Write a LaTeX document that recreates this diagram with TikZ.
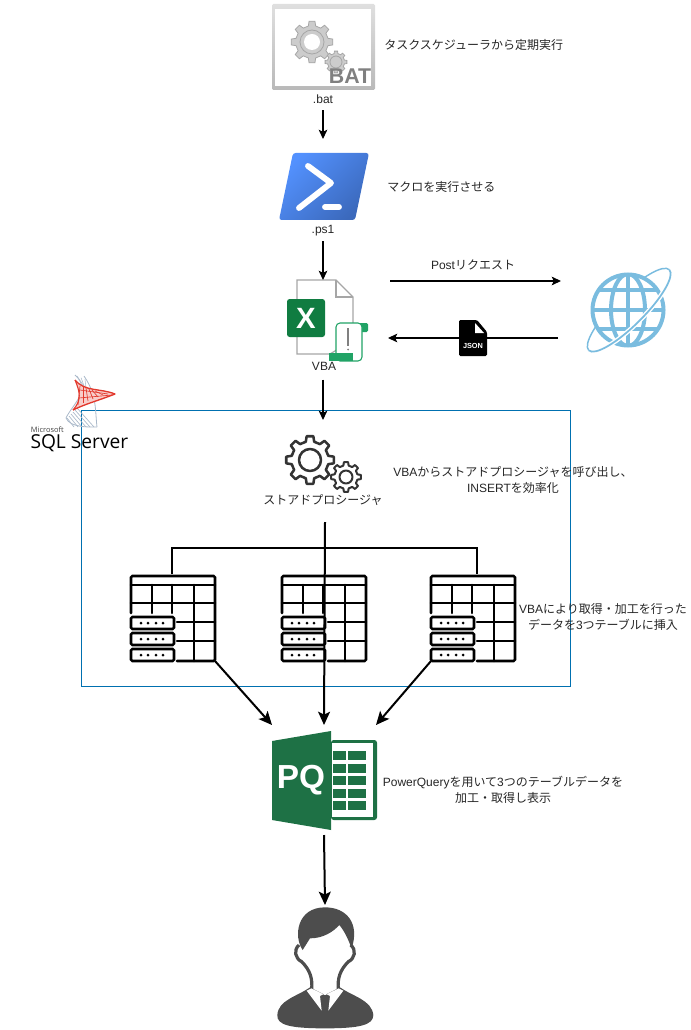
\documentclass[tikz,border=0pt]{standalone}
\usepackage{fontspec}
\setmainfont{Liberation Sans}
\newfontfamily\jpfont{Noto Sans CJK JP}
\newfontfamily\logofont{Open Sans}
\usetikzlibrary{arrows.meta}
\definecolor{boxblue}{HTML}{0070B0}
\definecolor{xlgreen}{HTML}{107C41}
\definecolor{scrollgreen}{HTML}{21A366}
\definecolor{pqgreen}{HTML}{1E7145}
\definecolor{globeblue}{HTML}{7ABCDF}
\definecolor{usergray}{HTML}{4D4D4D}
\definecolor{sqlred}{HTML}{E2382C}
\definecolor{sqlgray}{HTML}{A9B8C9}
\definecolor{pslight}{HTML}{5391FE}
\definecolor{psdark}{HTML}{3B69BC}
\def\px{0.75pt}
\newcommand{\jpt}[1]{{\jpfont #1}}
\newcommand{\gearicon}[4]{\draw[#1,shift={(#2)}] (-13:{#3*0.78}) \foreach \a in {0,45,...,315} { -- ({\a-13}:{#3*0.78}) -- ({\a-8}:#3) -- ({\a+8}:#3) -- ({\a+13}:{#3*0.78}) } -- cycle ; \draw[#1,shift={(#2)}] (0,0) circle[radius=#4] ;}
\tikzset{
  notetext/.style={inner sep=0pt,align=center,text=black!85,font=\fontsize{9}{12}\selectfont},
  iconbox/.style={inner sep=0pt,outer sep=0pt},
  flowline/.style={line width=0.8pt,-{Stealth[length=7pt,width=6.5pt,inset=1.6pt]}},
  heavyline/.style={line width=1.5pt,-{Stealth[length=10pt,width=9pt,inset=2.2pt]}},
  tableline/.style={line width=1.9pt,line cap=round,rounded corners=1pt},
  pics/tableicon/.style={code={
    \draw[tableline] (0,37) -- (0,0) -- (84,0) -- (84,85) -- (46,85) ;
    \draw[tableline] (0,9) -- (84,9) ;
    \draw[tableline] (0,27) -- (84,27) ;
    \draw[tableline] (21,9) -- (21,37) ;
    \draw[tableline] (41,9) -- (41,37) ;
    \draw[tableline] (63,9) -- (63,85) ;
    \draw[tableline] (46,46) -- (84,46) ;
    \draw[tableline] (46,65) -- (84,65) ;
    \foreach \r in {41,57,73} {
      \draw[tableline] (0,\r) rectangle (43,\r+12) ;
      \foreach \d in {10,17,25,32} \fill (\d,\r+6) circle[radius=1.5] ;
    }
  }}
}
\begin{document}
\begin{tikzpicture}[x=0.75pt,y=-0.75pt]
\useasboundingbox (0,0) rectangle (691,1030);
\draw[boxblue,line width=0.7pt] (81,410) rectangle (570,686) ;
% bat file
\node[iconbox,minimum width=104*\px,minimum height=86*\px] (baticon) at (323,47) {};
\shade[top color=gray!25,bottom color=gray!55,rounded corners=1pt] (272,4) rectangle (375,90) ;
\fill[white] (275,9) rectangle (371,86) ;
\gearicon{fill=gray!40,draw=gray!70,line width=0.6pt}{312,42}{21}{12}
\fill[white] (312,42) circle[radius=8] ;
\gearicon{fill=gray!40,draw=gray!70,line width=0.6pt}{336,62}{11}{6}
\node[iconbox,text=gray,font=\fontsize{16}{16}\selectfont\bfseries] (battext) at (350,76) {BAT};
\node[notetext,inner ysep=4.9pt] (batlabel) at (323,99) {.bat};
\node[notetext,anchor=west] (tasknote) at (384,45) {\jpt{タスクスケジューラから定期実行}};
% powershell
\node[iconbox,minimum width=90*\px,minimum height=81*\px] (psicon) at (323,179.5) {};
\shade[shading=axis,top color=pslight,bottom color=psdark,shading angle=45,rounded corners=2pt] (293,153) -- (369,153) -- (355,220) -- (279,220) -- cycle ;
\draw[white,line width=4.4pt,line cap=round,line join=round] (308,166) -- (331,183) -- (299,208) ;
\draw[white,line width=4.4pt,line cap=round] (325,207) -- (339,207) ;
\node[notetext,inner ysep=3.4pt] (pslabel) at (323,231) {.ps1};
\node[notetext,anchor=west] (macronote) at (387,187) {\jpt{マクロを実行させる}};
% excel with macro
\node[iconbox,minimum width=82*\px,minimum height=74*\px] (xlicon) at (323,317) {};
\draw[gray!70,line width=0.9pt,fill=white] (297,354) -- (297,280) -- (336,280) -- (353,297) -- (353,340) -- (330,354) -- cycle ;
\draw[gray!70,line width=0.9pt] (336,280) -- (336,297) -- (353,297) ;
\fill[xlgreen,rounded corners=2pt] (287,299) rectangle (325,337) ;
\node[iconbox,text=white,font=\fontsize{22}{22}\selectfont\bfseries] (xltext) at (306,318) {X};
\fill[scrollgreen,rounded corners=1pt] (358,323) rectangle (368,332) ;
\draw[scrollgreen,line width=0.8pt,fill=white,rounded corners=3pt] (336,361) -- (336,323) -- (362,323) -- (362,361) -- cycle ;
\fill[scrollgreen] (329,353) rectangle (353,361) ;
\draw[gray,line width=1pt] (348,328) -- (348,346) ;
\fill[gray] (348,349.5) circle[radius=1] ;
\node[notetext,inner ysep=7pt] (vbalabel) at (324,366) {VBA};
% web
\node[iconbox,minimum width=84*\px,minimum height=84*\px] (webicon) at (628,310) {};
\draw[globeblue,line width=1.1pt,rotate around={45:(629,310)}] (629,310) ellipse[x radius=57,y radius=15] ;
\begin{scope}
\fill[white] (628,310) circle[radius=37] ;
\clip (628,310) circle[radius=36] ;
\draw[globeblue,line width=3pt] (628,310) ellipse[x radius=17,y radius=36] ;
\draw[globeblue,line width=3pt] (628,274) -- (628,346) ;
\draw[globeblue,line width=3pt] (590,310) -- (666,310) ;
\draw[globeblue,line width=3pt] (590,290) -- (666,290) ;
\draw[globeblue,line width=3pt] (590,329) -- (666,329) ;
\end{scope}
\draw[globeblue,line width=3pt] (628,310) circle[radius=35.5] ;
\draw[white,line width=3.4pt,rotate around={45:(629,310)}] (686,310) arc[start angle=0,end angle=180,x radius=57,y radius=15] ;
\draw[globeblue,line width=1.3pt,rotate around={45:(629,310)}] (686,310) arc[start angle=0,end angle=180,x radius=57,y radius=15] ;
\coordinate (poststart) at (390,281) ;
\coordinate (postend) at (561,281) ;
\coordinate (jsonstart) at (558,338) ;
\coordinate (jsonend) at (388,338) ;
\draw[flowline] (poststart) -- (postend) ;
\draw[flowline] (jsonstart) -- (jsonend) ;
\node[notetext] (postnote) at (473,265) {Post\jpt{リクエスト}};
\fill[black,rounded corners=1pt] (459,320) -- (477,320) -- (487,332) -- (487,356) -- (459,356) -- cycle ;
\fill[white] (475,323) -- (484,333) -- (475,333) -- cycle ;
\node[iconbox,text=white,font=\fontsize{5.5}{6}\selectfont\bfseries] (jsontext) at (473,346) {JSON};
% sql server logo
\draw[sqlgray,line width=0.6pt] (75,375) .. controls (92,390) and (72,405) .. (66,418) .. controls (70,428) and (90,427) .. (97,427) ;
\draw[sqlgray,line width=0.6pt] (84,376) .. controls (97,395) and (95,410) .. (97,427) ;
\foreach \s in {0,4,8,12,16,20} \draw[sqlgray,line width=0.5pt] (67+\s*0.5,418-\s*0.5) -- (74+\s,427) ;
\foreach \s in {0,4,8} \draw[sqlgray,line width=0.4pt] (77+\s,376+\s*0.4) -- (90-\s*0.3,395+\s) ;
\fill[sqlred!25] (75,380) .. controls (85,392) and (100,388) .. (115,394) .. controls (100,400) and (85,404) .. (73,410) .. controls (82,400) and (80,392) .. (75,380) -- cycle ;
\draw[sqlred,line width=1pt,line join=round] (75,380) .. controls (85,392) and (100,388) .. (115,394) .. controls (100,400) and (85,404) .. (73,410) ;
\draw[sqlred,line width=0.8pt] (75,380) .. controls (80,392) and (82,400) .. (73,410) ;
\foreach \s in {0,5,10,15,20,25} \draw[sqlred,line width=0.5pt] (80+\s*0.6,386+\s*0.2) -- (78+\s,405-\s*0.4) ;
\draw[sqlred,line width=0.5pt] (80,390) -- (108,394) ;
\draw[sqlred,line width=0.5pt] (79,398) -- (112,395) ;
\node[iconbox,anchor=west,font=\logofont\fontsize{5.6}{6}\selectfont,text=black!75] (mslabel) at (31,429.5) {Microsoft};
\node[iconbox,anchor=west,font=\logofont\fontsize{14.4}{16}\selectfont] (sqllabel) at (30.5,443) {SQL Server};
% stored procedure
\node[iconbox,minimum width=90*\px,minimum height=70*\px] (spicon) at (323,455) {};
\gearicon{draw=black!80,line width=1.9pt,line join=round}{310,460}{24}{11}
\gearicon{draw=black!80,line width=1.5pt,line join=round}{346,477}{15}{6.5}
\node[notetext] (splabel) at (323,500) {\jpt{ストアドプロシージャ}};
\node[notetext] (spnote) at (513,480) {VBA\jpt{からストアドプロシージャを呼び出し、}\\INSERT\jpt{を効率化}};
% tables
\foreach \tx/\tname in {131/tableleft,282/tablemid,431/tableright} {
  \pic at (\tx,576) {tableicon} ;
  \node[iconbox,anchor=north west,minimum width=84*\px,minimum height=85*\px] (\tname) at (\tx,576) {};
}
\node[notetext] (loadnote) at (603,617) {VBA\jpt{により取得・加工を行った}\\\jpt{データを}3\jpt{つテーブルに挿入}};
% power query
\node[iconbox,minimum width=104*\px,minimum height=110*\px] (pqicon) at (324,780) {};
\fill[pqgreen,rounded corners=2pt] (331,740) rectangle (377,820) ;
\fill[white] (332,743) rectangle (373,817) ;
\foreach \r in {751,763.5,776,788.5,801} {
  \fill[pqgreen] (333,\r) rectangle (346,\r+9) ;
  \fill[pqgreen] (348,\r) rectangle (366,\r+9) ;
}
\fill[pqgreen] (272,741) -- (331,731) -- (331,830) -- (272,820) -- cycle ;
\node[iconbox,text=white,font=\fontsize{25}{25}\selectfont\bfseries] (pqtext) at (301,780) {PQ};
\node[notetext] (pqnote) at (503,790) {PowerQuery\jpt{を用いて}3\jpt{つのテーブルデータを}\\\jpt{加工・取得し表示}};
% user
\node[iconbox,minimum width=100*\px,minimum height=122*\px] (usericon) at (325,966) {};
\begin{scope}[shift={(260,900)},scale=1/3]
\fill[usergray] (52,345) .. controls (55,300) and (110,290) .. (150,262) -- (195,285) -- (240,262) .. controls (280,290) and (335,300) .. (340,345) .. controls (340,375) and (300,385) .. (195,385) .. controls (90,385) and (50,375) .. (52,345) -- cycle ;
\fill[usergray] (128,150) .. controls (100,110) and (110,22) .. (195,22) .. controls (260,22) and (300,70) .. (275,145) .. controls (265,120) and (255,95) .. (238,75) .. controls (220,95) and (190,115) .. (150,115) -- cycle ;
\draw[usergray,line width=2.4pt] (117,135) .. controls (100,150) and (105,175) .. (125,185) .. controls (150,210) and (158,235) .. (155,268) ;
\draw[usergray,line width=2.4pt] (272,135) .. controls (290,150) and (285,175) .. (265,185) .. controls (240,210) and (232,235) .. (235,268) ;
\fill[white] (140,272) -- (185,332) -- (180,288) -- (195,280) -- (210,288) -- (205,332) -- (250,272) -- (236,265) -- (195,285) -- (154,265) -- cycle ;
\end{scope}
% connectors
\coordinate (trunkstart) at (325,522) ;
\coordinate (busleft) at (172,574) ;
\coordinate (busright) at (477,574) ;
\coordinate (bustop) at (325,548) ;
\draw[flowline] (batlabel.south) -- (psicon.north) ;
\draw[flowline] (pslabel.south) -- (xlicon.north) ;
\draw[flowline] ([xshift=-0.75pt]vbalabel.south) -- (spicon.north) ;
\draw[line width=1.5pt] (busleft) |- (bustop) -| (busright) ;
\draw[heavyline] (trunkstart) -- (pqicon.north) ;
\draw[heavyline] (tableleft.south east) -- (pqicon.north west) ;
\draw[heavyline] (tableright.south west) -- (pqicon.north east) ;
\draw[heavyline] (pqicon.south) -- (usericon.north) ;
\end{tikzpicture}
\end{document}
